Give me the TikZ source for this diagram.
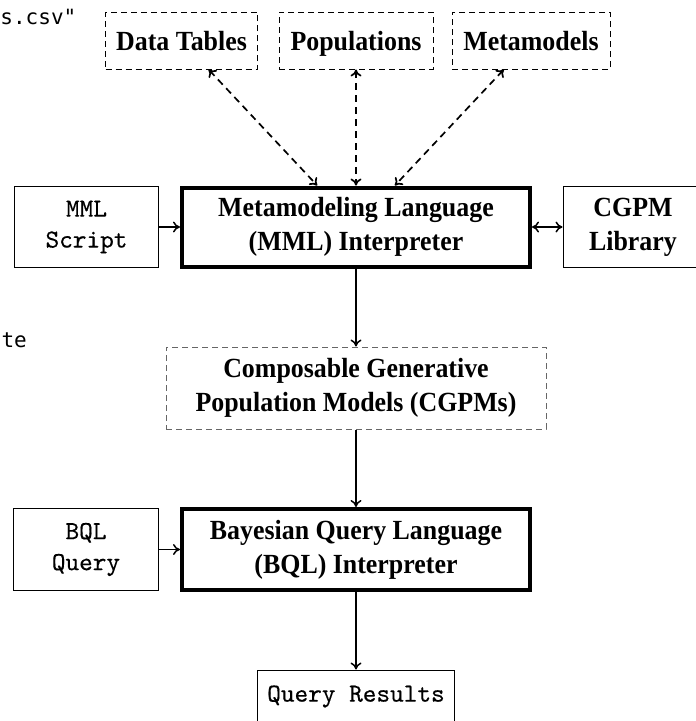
\documentclass[tikz,border=0pt]{standalone}
\usepackage{fontspec}
\setmainfont{Liberation Serif}[FakeStretch=0.935]
\setmonofont{lmmono10-regular.otf}[FakeBold=0.35]
\newfontfamily\fragfont{DejaVu Sans Mono}
\usetikzlibrary{arrows.meta}
\begin{document}
\begin{tikzpicture}[x=1pt,y=-1pt,
  every node/.style={font=\fontsize{27.7}{34}\selectfont, align=center, inner sep=0pt},
  monotext/.style={font=\fontsize{26}{31}\selectfont\ttfamily},
  thinbox/.style={draw, line width=1pt},
  thickbox/.style={draw, line width=4pt},
  dbox/.style={draw, line width=1pt, dash pattern=on 6pt off 4pt, text depth=0pt},
  gbox/.style={draw=black!60, line width=1pt, dash pattern=on 6pt off 4pt},
  conn/.style={line width=1.5pt, -{To[length=7pt,width=11pt]}},
  biconn/.style={line width=1.5pt, {To[length=7pt,width=11pt]}-{To[length=7pt,width=11pt]}},
  dconn/.style={biconn, line width=1.7pt, dash pattern=on 7pt off 5pt},
  frag/.style={font=\fragfont\fontsize{21}{25}\selectfont, anchor=base east, inner sep=0pt}
]
\useasboundingbox (0,0) rectangle (696,721);

\node[frag] (f1) at (76.5,24.5) {rs.csv"};
\node[frag] (f2) at (27,347) {te};

\node[dbox, minimum width=152pt, minimum height=57pt] (dt) at (181.5,40.5) {\bfseries Data Tables};
\node[dbox, minimum width=154pt, minimum height=57pt] (pop) at (356,40.5) {\bfseries Populations};
\node[dbox, minimum width=158pt, minimum height=57pt] (meta) at (531,40.5) {\bfseries Metamodels};

\node[thickbox, minimum width=348pt, minimum height=79pt] (mml) at (356,227) {\bfseries Metamodeling Language\\\bfseries (MML) Interpreter};
\node[thinbox, monotext, minimum width=144pt, minimum height=81pt] (mmls) at (86.5,227) {MML\\Script};
\node[thinbox, minimum width=140pt, minimum height=81pt] (lib) at (633,227) {\bfseries CGPM\\\bfseries Library};

\node[gbox, minimum width=380pt, minimum height=82pt] (cgpm) at (356,388) {\bfseries Composable Generative\\\bfseries Population Models (CGPMs)};

\node[thickbox, minimum width=348pt, minimum height=81pt] (bql) at (356,549.5) {\bfseries Bayesian Query Language\\\bfseries (BQL) Interpreter};
\node[thinbox, monotext, minimum width=145pt, minimum height=82pt] (bqlq) at (86,549.5) {BQL\\Query};

\node[thinbox, monotext, minimum width=197pt, minimum height=53pt] (qr) at (356,696.5) {Query Results};

\draw[dconn] (dt) -- (mml);
\draw[dconn] (pop) -- (mml);
\draw[dconn] (meta) -- (mml);
\draw[conn] (mmls) -- (mml);
\draw[biconn] (mml) -- (lib);
\draw[conn] (mml) -- (cgpm);
\draw[conn] (cgpm) -- (bql);
\draw[conn] (bqlq) -- (bql);
\draw[conn] (bql) -- (qr);
\end{tikzpicture}
\end{document}
